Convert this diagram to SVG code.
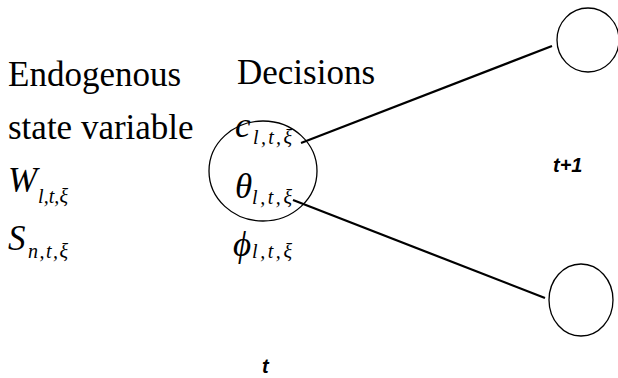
<svg xmlns="http://www.w3.org/2000/svg" width="618" height="378" viewBox="0 0 618 378">
<style>
.n{fill:none;stroke:#000;stroke-width:1.3}
.c{stroke:#000;stroke-width:2.2}
.t{font-family:"Liberation Serif","Times New Roman",serif;font-size:35px;fill:#000}
.v{font-family:"Liberation Serif","Times New Roman",serif;font-size:35px;font-style:italic;fill:#000}
.s{font-family:"Liberation Serif","Times New Roman",serif;font-size:20px;font-style:italic;fill:#000}
.a{font-family:"Liberation Sans",Arial,sans-serif;font-size:20px;font-style:italic;font-weight:bold;fill:#000}
</style>
<rect width="618" height="378" fill="#fff"/>
<g id="connectors">
<line class="c" x1="301" y1="143" x2="552" y2="46"/>
<line class="c" x1="293" y1="200" x2="545" y2="298"/>
</g>
<g id="node-t">
<ellipse class="n" cx="263" cy="171" rx="54" ry="50"/>
</g>
<g id="node-t1-up">
<ellipse class="n" cx="588" cy="40" rx="31" ry="32"/>
</g>
<g id="node-t1-down">
<ellipse class="n" cx="581" cy="300" rx="32" ry="36"/>
</g>
<g id="labels">
<text class="t" x="8" y="86">Endogenous</text>
<text class="t" x="8" y="139">state variable</text>
<text class="t" x="237" y="84">Decisions</text>
<text class="v" x="8" y="192">W</text>
<text class="s" x="38" y="203" textLength="30" lengthAdjust="spacing">l,t,ξ</text>
<text class="v" x="8" y="250">S</text>
<text class="s" x="28" y="258" textLength="40" lengthAdjust="spacing">n,t,ξ</text>
<text class="v" x="235" y="137">c</text>
<text class="s" x="253" y="144" textLength="39" lengthAdjust="spacing">l,t,ξ</text>
<text class="v" x="235" y="198">θ</text>
<text class="s" x="252" y="204" textLength="40" lengthAdjust="spacing">l,t,ξ</text>
<text class="v" x="233" y="256">ϕ</text>
<text class="s" x="252" y="258" textLength="40" lengthAdjust="spacing">l,t,ξ</text>
<text class="a" x="553" y="172">t+1</text>
<text class="a" x="262" y="373">t</text>
</g>
</svg>
